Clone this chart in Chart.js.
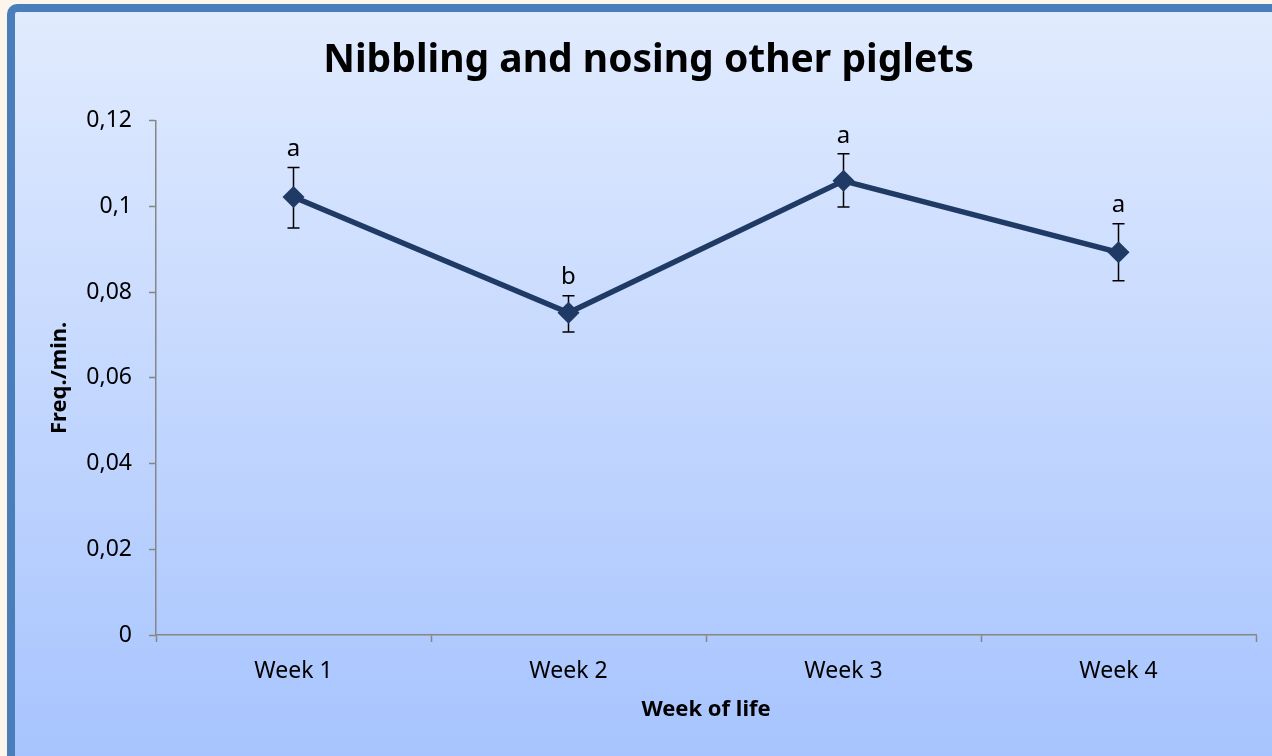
<!DOCTYPE html>
<html>
<head>
<meta charset="utf-8">
<script src="https://cdn.jsdelivr.net/npm/chart.js@4"></script>
<style>
  html, body { margin: 0; padding: 0; background: #fbf5ec; }
  #wrap { width: 1272px; height: 756px; }
</style>
</head>
<body>
<div id="wrap"><canvas id="chart" width="1272" height="756"></canvas></div>
<script>
// ── Data ────────────────────────────────────────────────────────────────
const weeks = ['Week 1', 'Week 2', 'Week 3', 'Week 4'];
const freqMean = [0.1022, 0.0752, 0.106, 0.0893];
const errUpper = [0.1091, 0.0792, 0.1123, 0.0960];
const errLower = [0.0950, 0.0707, 0.0999, 0.0827];
const letters = ['a', 'b', 'a', 'a'];
const yTickLabels = ['0', '0,02', '0,04', '0,06', '0,08', '0,1', '0,12'];

const FONT = "'Noto Sans', 'Open Sans', sans-serif";
const AXIS_GREY = '#868686';
const LINE_NAVY = '#1f3a64';

// ── Frame: blue rounded border with vertical gradient fill ─────────────
const framePlugin = {
    id: 'frame',
    beforeDraw(chart) {
        const ctx = chart.ctx;
        ctx.save();
        ctx.fillStyle = '#fbf5ec';
        ctx.fillRect(0, 0, chart.width, chart.height);

        const g = ctx.createLinearGradient(0, 12, 0, chart.height);
        g.addColorStop(0, '#e1ebfe');
        g.addColorStop(1, '#a7c4fe');

        ctx.beginPath();
        ctx.roundRect(11, 8, chart.width + 20, chart.height + 2, 6);
        ctx.fillStyle = g;
        ctx.fill();
        ctx.lineWidth = 8;
        ctx.strokeStyle = '#4a7ebb';
        ctx.stroke();
        ctx.restore();
    }
};

// ── Error bars + significance letters ───────────────────────────────────
const errorBarPlugin = {
    id: 'errorBars',
    beforeDatasetsDraw(chart) {
        const ctx = chart.ctx;
        const x = chart.scales.x, y = chart.scales.y;
        ctx.save();
        ctx.strokeStyle = '#000';
        ctx.lineWidth = 1.5;
        weeks.forEach((w, i) => {
            const px = x.getPixelForValue(i);
            const top = y.getPixelForValue(errUpper[i]);
            const bot = y.getPixelForValue(errLower[i]);
            ctx.beginPath();
            ctx.moveTo(px, top); ctx.lineTo(px, bot);
            ctx.moveTo(px - 6, top); ctx.lineTo(px + 6, top);
            ctx.moveTo(px - 6, bot); ctx.lineTo(px + 6, bot);
            ctx.stroke();
        });
        ctx.restore();
    },
    afterDatasetsDraw(chart) {
        const ctx = chart.ctx;
        const x = chart.scales.x, y = chart.scales.y;
        ctx.save();
        ctx.fillStyle = '#000';
        ctx.font = '24px ' + FONT;
        ctx.textAlign = 'center';
        ctx.textBaseline = 'middle';
        letters.forEach((l, i) => {
            const px = x.getPixelForValue(i);
            const top = y.getPixelForValue(errUpper[i]);
            ctx.fillText(l, px, top - 18);
        });
        ctx.restore();
    }
};

new Chart(document.getElementById('chart'), {
    type: 'line',
    data: {
        labels: weeks,
        datasets: [{
            data: freqMean,
            borderColor: LINE_NAVY,
            borderWidth: 5.5,
            backgroundColor: LINE_NAVY,
            pointStyle: 'rectRot',
            pointRadius: 11,
            pointBorderWidth: 0,
            tension: 0
        }]
    },
    options: {
        responsive: false,
        animation: false,
        events: [],
        layout: { padding: { left: 41, right: 16, top: 0, bottom: 0 } },
        plugins: {
            legend: { display: false },
            tooltip: { enabled: false },
            title: {
                display: true,
                text: 'Nibbling and nosing other piglets',
                color: '#000',
                font: { family: FONT, size: 39, weight: 'bold', lineHeight: 1.2 },
                padding: { top: 37, bottom: 37 }
            }
        },
        scales: {
            x: {
                offset: true,
                afterFit(scale) { scale.height = 121; },
                grid: {
                    offset: true,
                    drawOnChartArea: false,
                    drawTicks: true,
                    tickLength: 7,
                    tickColor: AXIS_GREY,
                    tickWidth: 1.5
                },
                border: { display: true, color: AXIS_GREY, width: 1.5 },
                ticks: {
                    color: '#000',
                    padding: 16,
                    font: { family: FONT, size: 23 }
                },
                title: {
                    display: true,
                    text: 'Week of life',
                    color: '#000',
                    font: { family: FONT, size: 22, weight: 'bold', lineHeight: 1.2 },
                    padding: { top: 0, bottom: 33 }
                }
            },
            y: {
                min: 0,
                max: 0.12,
                afterFit(scale) { scale.width = 115; },
                afterBuildTicks(scale) {
                    scale.ticks = yTickLabels.map((t, i) => ({ value: i * 0.02 }));
                },
                grid: {
                    drawOnChartArea: false,
                    drawTicks: true,
                    tickLength: 7,
                    tickColor: AXIS_GREY,
                    tickWidth: 1.5
                },
                border: { display: true, color: AXIS_GREY, width: 1.5 },
                ticks: {
                    color: '#000',
                    padding: 17,
                    font: { family: FONT, size: 23 },
                    callback: (v, i) => yTickLabels[i]
                },
                title: {
                    display: true,
                    text: 'Freq./min.',
                    color: '#000',
                    font: { family: FONT, size: 22, weight: 'bold', lineHeight: 1.2 },
                    padding: { top: 6, bottom: 0 }
                }
            }
        }
    },
    plugins: [framePlugin, errorBarPlugin]
});
</script>
</body>
</html>
